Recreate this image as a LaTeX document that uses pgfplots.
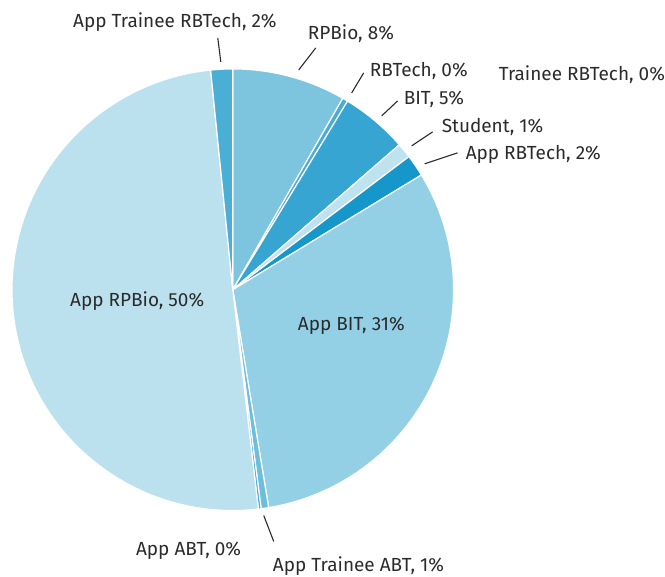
\documentclass[border=0pt]{standalone}
\usepackage{pgfplots}
\pgfplotsset{compat=1.18}
\usepackage{pgfplotstable}
\usepackage{fontspec}
\setmainfont{Fira Sans}

\definecolor{cRPBio}{HTML}{7DC4DF}
\definecolor{cRBTech}{HTML}{48ADD5}
\definecolor{cBIT}{HTML}{36A5D1}
\definecolor{cStudent}{HTML}{BEE2EE}
\definecolor{cAppRBTech}{HTML}{1597C9}
\definecolor{cAppBIT}{HTML}{94D0E5}
\definecolor{cAppTrABT}{HTML}{6DBEDC}
\definecolor{cAppABT}{HTML}{48ADD5}
\definecolor{cAppRPBio}{HTML}{BCE1EE}
\definecolor{cAppTrRBTech}{HTML}{4AAED5}
\definecolor{cTrRBTech}{HTML}{1597C9}
\definecolor{txt}{HTML}{2B2B2B}

\tikzset{lbl/.style={text=txt, font=\fontsize{19}{22}\selectfont, anchor=west, inner sep=0pt}}

% shares in percent, clockwise from 12 o'clock
\pgfplotstableread[col sep=comma]{
label,value,color
RPBio,8.3,cRPBio
RBTech,0.4,cRBTech
BIT,4.9,cBIT
Student,1.1,cStudent
App RBTech,1.6,cAppRBTech
App BIT,31.1,cAppBIT
App Trainee ABT,0.55,cAppTrABT
App ABT,0.2,cAppABT
App RPBio,50.25,cAppRPBio
App Trainee RBTech,1.6,cAppTrRBTech
Trainee RBTech,0,cTrRBTech
}\piedata

\begin{document}
\begin{tikzpicture}
\begin{axis}[
    hide axis,
    scale only axis,
    width=665pt, height=577pt,
    xmin=0, xmax=665, ymin=0, ymax=577,
    y dir=reverse,
    clip=false,
]
\path (rel axis cs:0,0) rectangle (rel axis cs:1,1);
\pgfplotsextra{
  \pgfplotstablegetrowsof{\piedata}
  \pgfmathtruncatemacro\nrows{\pgfplotsretval-1}
  \gdef\startang{90}
  \foreach \i in {0,...,\nrows}{
    \pgfplotstablegetelem{\i}{value}\of\piedata
    \pgfmathsetmacro\endang{\startang-3.6*\pgfplotsretval}
    \pgfplotstablegetelem{\i}{color}\of\piedata
    \edef\slicecol{\pgfplotsretval}
    \fill[fill=\slicecol, draw=white, line width=1.2pt, line join=round]
      (axis cs:233,290) -- ++(\startang:221pt)
      arc[start angle=\startang, end angle=\endang, radius=221pt] -- cycle;
    \xdef\startang{\endang}
  }
}
% leader lines
\draw[line width=1.1pt, txt] (axis cs:218,38) -- (axis cs:221,62);
\draw[line width=1.1pt, txt] (axis cs:316,48) -- (axis cs:299,70);
\draw[line width=1.1pt, txt] (axis cs:364,73) -- (axis cs:352,93);
\draw[line width=1.1pt, txt] (axis cs:398,101) -- (axis cs:382,116);
\draw[line width=1.1pt, txt] (axis cs:433,132) -- (axis cs:412,146);
\draw[line width=1.1pt, txt] (axis cs:458,153) -- (axis cs:425,164);
\draw[line width=1.1pt, txt] (axis cs:264,516) -- (axis cs:274,542);
% labels
\node[lbl] at (axis cs:73,22) {App Trainee RBTech, 2\%};
\node[lbl] at (axis cs:308,34) {RPBio, 8\%};
\node[lbl] at (axis cs:370,71) {RBTech, 0\%};
\node[lbl] at (axis cs:499,75) {Trainee RBTech, 0\%};
\node[lbl] at (axis cs:404,99) {BIT, 5\%};
\node[lbl] at (axis cs:442,127) {Student, 1\%};
\node[lbl] at (axis cs:466,155) {App RBTech, 2\%};
\node[lbl] at (axis cs:70,301) {App RPBio, 50\%};
\node[lbl] at (axis cs:298,326) {App BIT, 31\%};
\node[lbl] at (axis cs:136,551) {App ABT, 0\%};
\node[lbl] at (axis cs:273,567) {App Trainee ABT, 1\%};
\end{axis}
\end{tikzpicture}
\end{document}
